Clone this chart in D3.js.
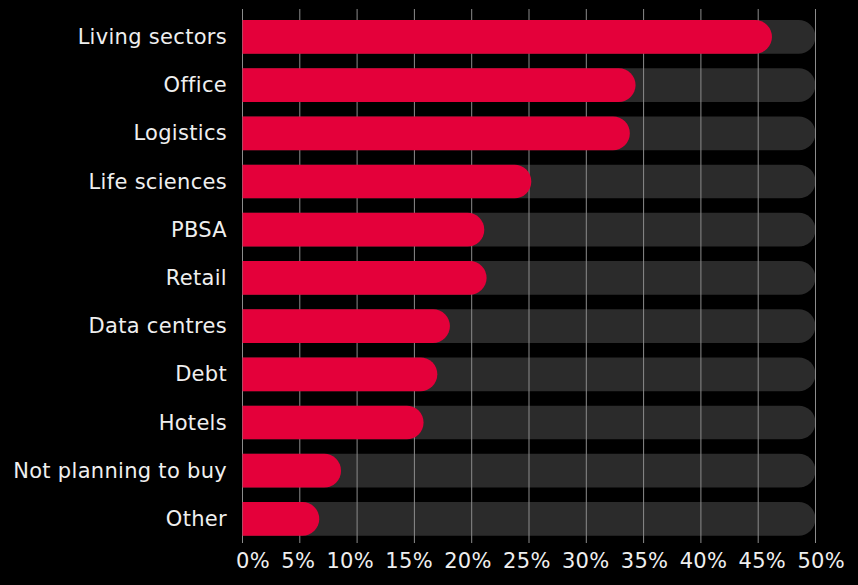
<!DOCTYPE html>
<html>
<head>
<meta charset="utf-8">
<script src="https://cdn.jsdelivr.net/npm/d3@7"></script>
<style>
  html, body { margin: 0; padding: 0; background: #000; }
  svg { display: block; }
  text { font-family: "DejaVu Sans", sans-serif; fill: #efefef; }
</style>
</head>
<body>
<div id="chart"></div>
<script>
const categories = ["Living sectors", "Office", "Logistics", "Life sciences", "PBSA", "Retail",
  "Data centres", "Debt", "Hotels", "Not planning to buy", "Other"];
const shares = [46.2, 34.3, 33.8, 25.2, 21.1, 21.3, 18.1, 17.0, 15.8, 8.6, 6.7];
const trackMax = 50;
const tickValues = [0, 5, 10, 15, 20, 25, 30, 35, 40, 45, 50];

const width = 858, height = 585;
const svg = d3.select("#chart").append("svg")
  .attr("width", width).attr("height", height);

svg.append("rect").attr("width", width).attr("height", height).attr("fill", "#000");

const x = d3.scaleLinear().domain([0, 50]).range([242.5, 815.5]);
const y = d3.scaleBand().domain(categories).range([12.8, 543])
  .paddingInner(0.3).paddingOuter(0.15);

// bar shape: square left edge, fully rounded right end
function pill(x0, x1, top, h) {
  const r = h / 2;
  const xe = Math.max(x0, x1 - r);
  const p = d3.path();
  p.moveTo(x0, top);
  p.lineTo(xe, top);
  p.arc(xe, top + r, r, -Math.PI / 2, Math.PI / 2);
  p.lineTo(x0, top + h);
  p.closePath();
  return p.toString();
}

const rows = categories.map((c, i) => ({ c, v: shares[i] }));

// background tracks
svg.append("g").selectAll("path").data(rows).join("path")
  .attr("d", d => pill(x(0), x(trackMax), y(d.c), y.bandwidth()))
  .attr("fill", "#2b2b2b");

// vertical grid lines
svg.append("g").selectAll("line").data(tickValues).join("line")
  .attr("x1", d => x(d)).attr("x2", d => x(d))
  .attr("y1", 9).attr("y2", 543)
  .attr("stroke", "#8c8c8c").attr("stroke-width", 1);

// value bars
svg.append("g").selectAll("path").data(rows).join("path")
  .attr("d", d => pill(x(0), x(d.v), y(d.c), y.bandwidth()))
  .attr("fill", "#e4003a");

// category labels
svg.append("g").selectAll("text").data(categories).join("text")
  .attr("x", 227).attr("y", d => y(d) + y.bandwidth() / 2)
  .attr("text-anchor", "end").attr("dominant-baseline", "central")
  .attr("font-size", 21).attr("letter-spacing", 0.3)
  .text(d => d);

// x axis labels, spread evenly (space-between) along the row under the plot
const xAxis = d3.axisBottom(x).tickValues(tickValues).tickFormat(d => d + "%").tickSize(0).tickPadding(0);
const ax = svg.append("g").attr("transform", "translate(0,553)").call(xAxis);
ax.select(".domain").remove();
const tickText = ax.selectAll("text").attr("font-size", 21).attr("letter-spacing", 0.3)
  .attr("dy", "0.71em").attr("text-anchor", "start")
  .style("font-family", "DejaVu Sans, sans-serif").attr("fill", "#efefef");
const rowLeft = x(0) - 6.5, rowRight = x(50) + 29.5;
const widths = tickText.nodes().map(n => n.getComputedTextLength());
const gap = (rowRight - rowLeft - d3.sum(widths)) / (widths.length - 1);
let cursor = rowLeft;
ax.selectAll(".tick").each(function(d, i) {
  const t = d3.select(this);
  t.attr("transform", `translate(${cursor},0)`);
  cursor += widths[i] + gap;
});
</script>
</body>
</html>
